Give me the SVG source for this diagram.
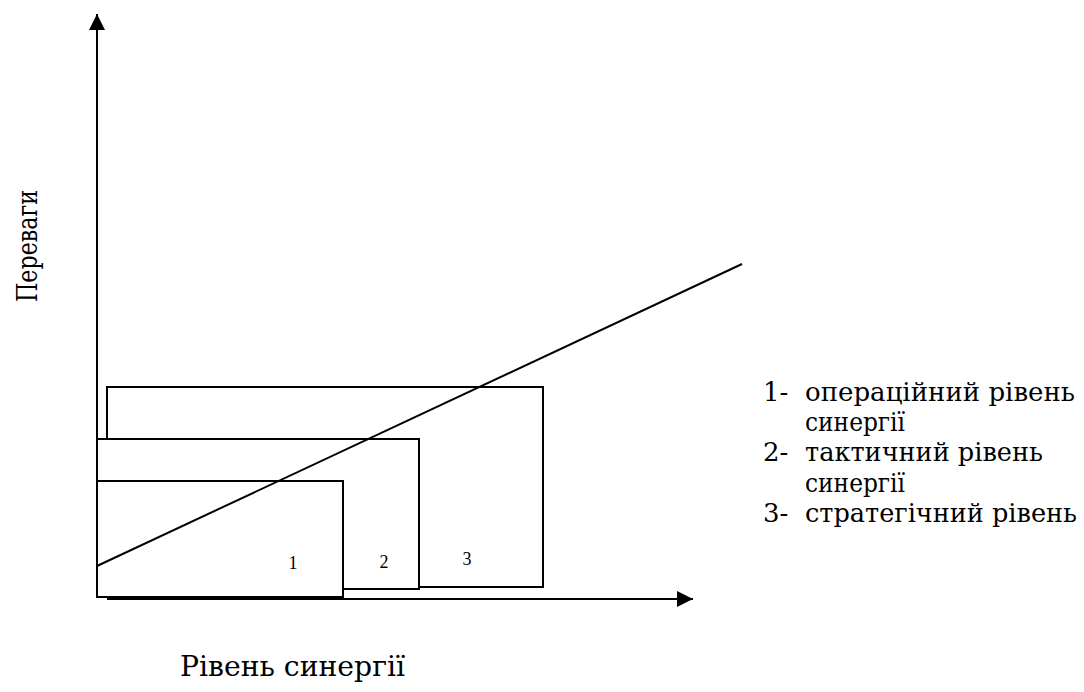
<svg xmlns="http://www.w3.org/2000/svg" width="1084" height="692" viewBox="0 0 1084 692">
<style>
.ln{stroke:#000;stroke-width:2;fill:none}
.bx{stroke:#000;stroke-width:2;fill:#fff}
.sm{font-size:18px;font-family:'Liberation Serif','DejaVu Serif',serif}
.cy{font-family:'DejaVu Serif','Liberation Serif',serif}
</style>
<defs>
<marker id="ah" viewBox="0 0 10 10" refX="10" refY="5" markerWidth="16" markerHeight="16" markerUnits="userSpaceOnUse" orient="auto">
<path d="M0,0 L10,5 L0,10 z" fill="#000"/>
</marker>
</defs>
<rect width="1084" height="692" fill="#fff"/>
<g id="node-3"><rect class="bx" x="107" y="387" width="436" height="200"/></g>
<g id="node-2"><rect class="bx" x="97" y="439" width="322" height="150"/></g>
<g id="node-1"><rect class="bx" x="97" y="481" width="246" height="116"/></g>
<g id="connectors">
<line class="ln" x1="97" y1="598" x2="97" y2="14" marker-end="url(#ah)"/>
<line class="ln" x1="107" y1="599" x2="693" y2="599" marker-end="url(#ah)"/>
<line class="ln" x1="97" y1="566" x2="742" y2="264"/>
</g>
<g fill="#000">
<g id="labels">
<text class="sm" x="293" y="569" text-anchor="middle">1</text>
<text class="sm" x="384" y="568" text-anchor="middle">2</text>
<text class="sm" x="467" y="565" text-anchor="middle">3</text>
<text class="cy" font-size="28" transform="translate(37,246) rotate(-90)" text-anchor="middle" textLength="112" lengthAdjust="spacingAndGlyphs">Переваги</text>
<text class="cy" font-size="28" x="180" y="676" textLength="225" lengthAdjust="spacingAndGlyphs">Рівень синергії</text>
</g>
<g id="legend" class="cy" font-size="26">
<text x="763" y="401">1-</text><text x="805" y="401" textLength="270" lengthAdjust="spacingAndGlyphs">операційний рівень</text>
<text x="805" y="431" textLength="100" lengthAdjust="spacingAndGlyphs">синергії</text>
<text x="763" y="461">2-</text><text x="805" y="461" textLength="238" lengthAdjust="spacingAndGlyphs">тактичний рівень</text>
<text x="805" y="492" textLength="100" lengthAdjust="spacingAndGlyphs">синергії</text>
<text x="763" y="522">3-</text><text x="805" y="522" textLength="272" lengthAdjust="spacingAndGlyphs">стратегічний рівень</text>
</g>
</g>
</svg>
